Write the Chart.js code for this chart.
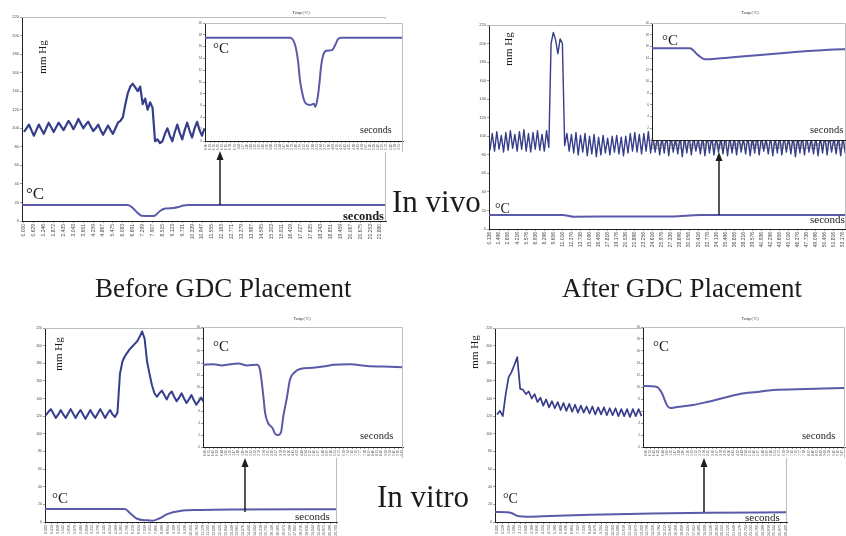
<!DOCTYPE html>
<html><head><meta charset="utf-8">
<script src="https://cdn.jsdelivr.net/npm/chart.js@4.4.1/dist/chart.umd.min.js"></script>
<style>
html,body{margin:0;padding:0;background:#fff;width:846px;height:536px;overflow:hidden;}
#stage{position:relative;width:846px;height:536px;}
svg{position:absolute;left:0;top:0;z-index:10;pointer-events:none}
svg text{font-family:'Liberation Serif','Times New Roman',serif;fill:#1c1c1c}
</style></head><body><div id="stage"></div>
<script>
// ---------- tick labels ----------
const P1_X_LABELS = ["0.000","0.629","1.246","1.872","2.435","3.043","3.651","4.259","4.867","5.475","6.083","6.691","7.299","7.907","8.515","9.123","9.731","10.339","10.947","11.555","12.163","12.771","13.379","13.987","14.595","15.203","15.811","16.419","17.027","17.635","18.243","18.851","19.459","20.067","20.675","21.253","21.880"];
const P2_X_LABELS = ["0.136","1.496","2.856","4.216","5.576","6.936","8.296","9.656","11.016","12.376","13.736","15.096","16.456","17.816","19.176","20.536","21.896","23.256","24.616","25.976","27.336","28.696","30.056","31.416","32.776","34.136","35.496","36.856","38.216","39.576","40.936","42.296","43.656","45.016","46.376","47.736","49.096","50.456","51.816","53.176"];
const P3_X_LABELS = ["0.000","0.414","0.828","1.242","1.656","2.070","2.484","2.898","3.312","3.726","4.140","4.554","4.968","5.382","5.796","6.210","6.624","7.038","7.452","7.866","8.280","8.694","9.108","9.522","9.936","10.350","10.764","11.178","11.592","12.006","12.420","12.834","13.248","13.662","14.076","14.490","14.904","15.318","15.732","16.146","16.560","16.974","17.388","17.802","18.216","18.630","19.044","19.458","19.872","20.286","20.700"];
const P4_X_LABELS = ["0.000","0.528","1.056","1.584","2.112","2.640","3.168","3.696","4.224","4.752","5.280","5.808","6.336","6.864","7.392","7.920","8.448","8.976","9.504","10.032","10.560","11.088","11.616","12.144","12.672","13.200","13.728","14.256","14.784","15.312","15.840","16.368","16.896","17.424","17.952","18.480","19.008","19.536","20.064","20.592","21.120","21.648","22.176","22.704","23.232","23.760","24.288","24.816","25.344","25.872","26.400"];
const VIVO_INSET_X_LABELS = ["0.00","0.13","0.26","0.39","0.52","0.65","0.78","0.91","1.04","1.17","1.30","1.43","1.56","1.69","1.82","1.95","2.08","2.21","2.34","2.47","2.60","2.73","2.86","2.99","3.12","3.25","3.38","3.51","3.64","3.77","3.90","4.03","4.16","4.29","4.42","4.55","4.68","4.81","4.94","5.07","5.20","5.33","5.46","5.59","5.72","5.85","5.98","6.11"];
const VITRO_INSET_X_LABELS = ["0.00","0.21","0.42","0.63","0.84","1.05","1.26","1.47","1.68","1.89","2.10","2.31","2.52","2.73","2.94","3.15","3.36","3.57","3.78","3.99","4.20","4.41","4.62","4.83","5.04","5.25","5.46","5.67","5.88","6.09","6.30","6.51","6.72","6.93","7.14","7.35","7.56","7.77","7.98","8.19","8.40","8.61","8.82","9.03","9.24","9.45","9.66","9.87"];

// ---------- pressure series (mm Hg), uniform sampling in tick units ----------
const P1_STEP = 0.25;
const P1_PRESSURE = [96,100,104,98, 92,98,104,99, 94,100,106,101, 96,101,106,102, 98,103,108,104, 99,104,110,105, 100,104,107,102, 97,100,104,98, 93,98,103,98, 94,100,106,108, 112,126,138,145, 148,144,140,145, 126,132,120,128, 122,86,88,84, 86,94,100,92, 86,96,104,95, 88,98,106,97, 90,100,107,98, 92,100];
const P2_STEP = 0.25;
const P2_PRESSURE = [
85,103,84,105,86,101,83,104,85,106,87,102,84,105,86,107,84,103,83,104,86,106,85,102,84,106,88,
200,212,204,189,205,200,
90,103,84,102,82,104,80,101,83,103,79,100,81,102,78,99,80,101,82,98,80,100,83,101,81,99,79,100,82,103,84,104,83,102,81,103,84,105,82,101,
83,100,80,99,82,101,79,100,
83,98,81,100,78,99,82,101,
80,100,84,98,81,100,79,101,
82,99,80,100,83,98,81,101,
79,100,82,99,80,101,83,98,
81,100,79,99,82,101,80,100,
84,98,81,100,79,99,82,101,
80,100,83,98,81,100,78,99,
82,101,80,100,83,98,81,100,
79,99,82,101,80,100,83,98,
81,100,79,99,82];
const P3_STEP = 0.425;
const P3_PRESSURE = [121,125,128,123,118,122,127,122,118,123,128,123,118,123,127,122,117,122,127,122,118,123,128,123,118,123,127,122,119,124,168,182,188,192,196,199,202,205,210,216,208,182,168,155,146,142,146,149,144,139,145,148,142,137,141,146,140,135,139,144,138,133,137,141,136];
const P4_STEP = 0.5;
const P4_PRESSURE = [122,126,120,145,164,170,178,187,151,150,145,148,140,145,136,141,132,139,130,137,129,136,127,135,126,134,125,133,124,132,124,131,123,131,122,130,122,130,121,129,121,129,120,128,120,128,119,128,120,128,120];

// ---------- temperature series (°C), main charts ----------
const T1_TIME = [-0.2,10.5,11.0,11.5,11.9,13.0,13.2,13.75,14.3,15.1,15.6,16.1,16.6,36.6];
const T1_TEMP = [17.3,17.3,14.0,8.6,5.6,5.4,5.6,10.8,13.5,14.0,15.0,16.7,17.3,17.3];
const T2_TIME = [-0.11,8.0,9.2,14,20.2,23.2,39.34];
const T2_TEMP = [15.1,15.1,13.3,13.4,13.6,15.0,15.1];
const T3_TIME = [-0.17,13.6,14.5,15.7,17.4,18.4,19.7,20.9,23.1,26.6,32.2,50.17];
const T3_TEMP = [14.7,14.7,10.0,3.7,1.9,1.5,4.5,9.0,12.5,13.6,14.2,14.5];
const T4_TIME = [-0.35,1.7,2.6,3.6,5.2,9.2,16.1,24.7,36.3,50.17];
const T4_TEMP = [11.3,11.0,9.9,6.8,6.0,6.8,8.3,9.4,10.6,11.0];

// ---------- temperature series (°C), insets ----------
const I1_TIME = [-0.24,20.5,21.7,22.4,22.9,23.4,23.9,24.4,25.4,26.3,26.6,27.1,27.6,28.0,28.5,29.3,30.7,31.5,32.2,32.9,48.0];
const I1_TEMP = [17.5,17.5,16.3,13.7,10.3,8.3,6.9,6.3,6.1,6.3,5.8,6.9,9.5,12.4,14.4,15.3,15.4,16.3,17.3,17.5,17.5];
const I2_TIME = [-0.25,9.1,11.1,12.8,14.8,19.0,25.6,33.7,40.4,46.8,47.5];
const I2_TEMP = [15.7,15.7,14.5,13.8,13.85,14.1,14.5,14.96,15.3,15.5,15.5];
const I3_TIME = [-0.48,2,4,6,8,10,12.4,13.1,13.8,14.3,15.0,16.0,16.7,17.4,18.1,18.6,19.5,20.2,21.4,22.6,25.7,29.0,30.5,34.5,38.6,42.4,47.1];
const I3_TEMP = [13.7,13.8,13.6,13.8,13.9,13.6,13.7,12.8,9.0,5.7,4.0,3.2,2.2,2.0,2.5,5.0,8.3,11.2,12.5,13.0,13.2,13.5,13.7,13.8,13.5,13.4,13.3];
const I4_TIME = [-0.72,2.6,3.8,5.0,5.8,7.4,11.3,14.6,18.5,22.5,26.6,30.5,38.6,47.7];
const I4_TEMP = [10.17,10.0,9.0,7.0,6.5,6.67,7.0,7.5,8.17,8.83,9.17,9.5,9.67,9.83];

// ---------- helpers ----------
Chart.defaults.font.family = "'Liberation Sans', Arial, sans-serif";
const stage = document.getElementById('stage');
const PRESS_COLOR = '#363d8a';
const TEMP_COLOR = '#5a5aa9';

function uniformPoints(vals, step){ return vals.map((v,i)=>({x:i*step, y:v})); }
function pairPoints(ts, vs){ return ts.map((t,i)=>({x:t, y:vs[i]})); }
function zeroPad(s){ s.paddingLeft=0; s.paddingRight=0; s.paddingTop=0; s.paddingBottom=0; }

function makeChart(o){
  const b=o.box, m=o.m;
  const W=b.r-b.l+m.l+m.r, H=b.b-b.t+m.t+m.b;
  const cv=document.createElement('canvas');
  cv.width=W; cv.height=H;
  cv.style.cssText=`position:absolute;left:${b.l-m.l}px;top:${b.t-m.t}px;width:${W}px;height:${H}px;z-index:${o.z}`;
  stage.appendChild(cv);
  const deco={
    id:'deco',
    beforeDraw(c){
      if(!o.bg) return;
      const a=c.chartArea, x=c.ctx;
      x.save(); x.fillStyle='#fff';
      x.fillRect(a.left,0,a.right-a.left+1,a.bottom+o.bgBelow);
      x.restore();
    },
    afterDraw(c){
      const a=c.chartArea, x=c.ctx;
      x.save(); x.strokeStyle='#bdbdbd'; x.lineWidth=1;
      x.beginPath();
      x.moveTo(a.left,a.top+0.5); x.lineTo(a.right-0.5,a.top+0.5); x.lineTo(a.right-0.5,a.bottom+o.frameBelow);
      x.stroke(); x.restore();
    }
  };
  new Chart(cv,{
    type:'line',
    data:{datasets:o.datasets},
    options:{
      responsive:false, maintainAspectRatio:false, animation:false, events:[],
      layout:{padding:{left:0,top:m.t,right:m.r,bottom:0}},
      plugins:{legend:{display:false},tooltip:{enabled:false},title:{display:false}},
      elements:{point:{radius:0}},
      scales:{
        x:{type:'linear', bounds:'data', min:o.xMin, max:o.xMax,
          afterBuildTicks:s=>{ s.ticks=o.xLabels.map((_,i)=>({value:i})); },
          ticks:{autoSkip:false, maxRotation:90, minRotation:90, font:{size:o.xFont}, color:'#4a4a4a', padding:1,
                 callback:(v,i)=>o.xLabels[i]},
          grid:{display:true, drawOnChartArea:false, drawTicks:true, tickLength:2, color:'#555', lineWidth:0.6},
          border:{display:true, color:'#222', width:1},
          afterFit:s=>{ s.height=m.b; zeroPad(s); }
        },
        y:{type:'linear', min:0, max:o.yMax,
          ticks:{stepSize:o.yStep, font:{size:o.yFont}, color:'#4a4a4a', padding:1},
          grid:{display:true, drawOnChartArea:false, drawTicks:true, tickLength:2, color:'#555', lineWidth:0.6},
          border:{display:true, color:'#222', width:1},
          afterFit:s=>{ s.width=m.l; zeroPad(s); }
        }
      }
    },
    plugins:[deco]
  });
}

function pressureDS(vals, step, w){ return {data:uniformPoints(vals,step), borderColor:PRESS_COLOR, borderWidth:w, tension:0, borderJoinStyle:'round', fill:false}; }
function tempDS(ts, vs, w){ return {data:pairPoints(ts,vs), borderColor:TEMP_COLOR, borderWidth:w, cubicInterpolationMode:'monotone', fill:false}; }

const MAIN_M_TOP = {l:22,t:5,r:2,b:22};
const MAIN_M_BOT = {l:22,t:5,r:2,b:14};
const INSET_M = {l:12,t:4,r:1,b:11};

// ---------- Panel 1: in vivo, before ----------
makeChart({box:{l:22,t:17,r:386,b:221}, m:MAIN_M_TOP, z:1, xLabels:P1_X_LABELS, xMin:-0.2, xMax:36.6, xFont:5, yMax:220, yStep:20, yFont:4, bg:false, frameBelow:0,
  datasets:[pressureDS(P1_PRESSURE,P1_STEP,2.2), tempDS(T1_TIME,T1_TEMP,2)]});
makeChart({box:{l:205,t:23,r:403,b:141}, m:INSET_M, z:2, xLabels:VIVO_INSET_X_LABELS, xMin:-0.24, xMax:48.0, xFont:3, yMax:20, yStep:2, yFont:3, bg:true, bgBelow:11, frameBelow:11,
  datasets:[tempDS(I1_TIME,I1_TEMP,2)]});

// ---------- Panel 2: in vivo, after ----------
makeChart({box:{l:489,t:25,r:846,b:229}, m:{l:22,t:5,r:0,b:22}, z:1, xLabels:P2_X_LABELS, xMin:-0.11, xMax:39.34, xFont:5, yMax:220, yStep:20, yFont:4, bg:false, frameBelow:0,
  datasets:[pressureDS(P2_PRESSURE,P2_STEP,1.4), tempDS(T2_TIME,T2_TEMP,2)]});
makeChart({box:{l:652,t:23,r:846,b:140}, m:{l:12,t:4,r:0,b:11}, z:2, xLabels:VIVO_INSET_X_LABELS, xMin:-0.25, xMax:47.5, xFont:3, yMax:20, yStep:2, yFont:3, bg:true, bgBelow:0, frameBelow:0,
  datasets:[tempDS(I2_TIME,I2_TEMP,2)]});

// ---------- Panel 3: in vitro, before ----------
makeChart({box:{l:45,t:328,r:337,b:522}, m:MAIN_M_BOT, z:1, xLabels:P3_X_LABELS, xMin:-0.17, xMax:50.17, xFont:3.6, yMax:220, yStep:20, yFont:3.5, bg:false, frameBelow:0,
  datasets:[pressureDS(P3_PRESSURE,P3_STEP,2), tempDS(T3_TIME,T3_TEMP,2)]});
makeChart({box:{l:203,t:327,r:403,b:447}, m:INSET_M, z:2, xLabels:VITRO_INSET_X_LABELS, xMin:-0.48, xMax:47.1, xFont:3, yMax:20, yStep:2, yFont:3, bg:true, bgBelow:11, frameBelow:11,
  datasets:[tempDS(I3_TIME,I3_TEMP,2)]});

// ---------- Panel 4: in vitro, after ----------
makeChart({box:{l:495,t:328,r:787,b:522}, m:MAIN_M_BOT, z:1, xLabels:P4_X_LABELS, xMin:-0.35, xMax:50.17, xFont:3.6, yMax:220, yStep:20, yFont:3.5, bg:false, frameBelow:0,
  datasets:[pressureDS(P4_PRESSURE,P4_STEP,1.7), tempDS(T4_TIME,T4_TEMP,2)]});
makeChart({box:{l:643,t:327,r:845,b:447}, m:INSET_M, z:2, xLabels:VITRO_INSET_X_LABELS, xMin:-0.72, xMax:47.7, xFont:3, yMax:20, yStep:2, yFont:3, bg:true, bgBelow:11, frameBelow:11,
  datasets:[tempDS(I4_TIME,I4_TEMP,2)]});

// ---------- annotations (text + arrows) ----------
const svg = `
<svg width="846" height="536" xmlns="http://www.w3.org/2000/svg">
  <text x="95" y="297" font-size="27">Before GDC Placement</text>
  <text x="562" y="297" font-size="27">After GDC Placement</text>
  <text x="392" y="212" font-size="31">In vivo</text>
  <text x="377" y="507" font-size="31">In vitro</text>

  <text transform="translate(46,57) rotate(-90)" font-size="11" text-anchor="middle">mm Hg</text>
  <text transform="translate(512,49) rotate(-90)" font-size="11" text-anchor="middle">mm Hg</text>
  <text transform="translate(62,354) rotate(-90)" font-size="11" text-anchor="middle">mm Hg</text>
  <text transform="translate(478,352) rotate(-90)" font-size="11" text-anchor="middle">mm Hg</text>

  <text x="26" y="199" font-size="17">°C</text>
  <text x="213" y="53" font-size="15">°C</text>
  <text x="495" y="213" font-size="14">°C</text>
  <text x="662" y="45" font-size="15">°C</text>
  <text x="52" y="503" font-size="15">°C</text>
  <text x="213" y="351" font-size="15">°C</text>
  <text x="503" y="503" font-size="14">°C</text>
  <text x="653" y="351" font-size="15">°C</text>

  <text x="343" y="220" font-size="12.5" font-weight="bold">seconds</text>
  <text x="360" y="133" font-size="10">seconds</text>
  <text x="810" y="223" font-size="11">seconds</text>
  <text x="810" y="133" font-size="10.5">seconds</text>
  <text x="295" y="520" font-size="11">seconds</text>
  <text x="360" y="439" font-size="10.5">seconds</text>
  <text x="745" y="521" font-size="11">seconds</text>
  <text x="802" y="439" font-size="10.5">seconds</text>

  <text x="301" y="14" font-size="4" text-anchor="middle">Temp (°C)</text>
  <text x="750" y="14" font-size="4" text-anchor="middle">Temp (°C)</text>
  <text x="302" y="320" font-size="4" text-anchor="middle">Temp (°C)</text>
  <text x="750" y="320" font-size="4" text-anchor="middle">Temp (°C)</text>

  <g stroke="#1e1e1e" stroke-width="1.5" fill="#1e1e1e">
    <line x1="220" y1="205" x2="220" y2="158"/><polygon points="220,151 216.5,160 223.5,160" stroke="none"/>
    <line x1="719" y1="215" x2="719" y2="159"/><polygon points="719,152 715.5,161 722.5,161" stroke="none"/>
    <line x1="245" y1="512" x2="245" y2="465"/><polygon points="245,458 241.5,467 248.5,467" stroke="none"/>
    <line x1="704" y1="512" x2="704" y2="465"/><polygon points="704,458 700.5,467 707.5,467" stroke="none"/>
  </g>
</svg>`;
stage.insertAdjacentHTML('beforeend', svg);
</script>
</body></html>
